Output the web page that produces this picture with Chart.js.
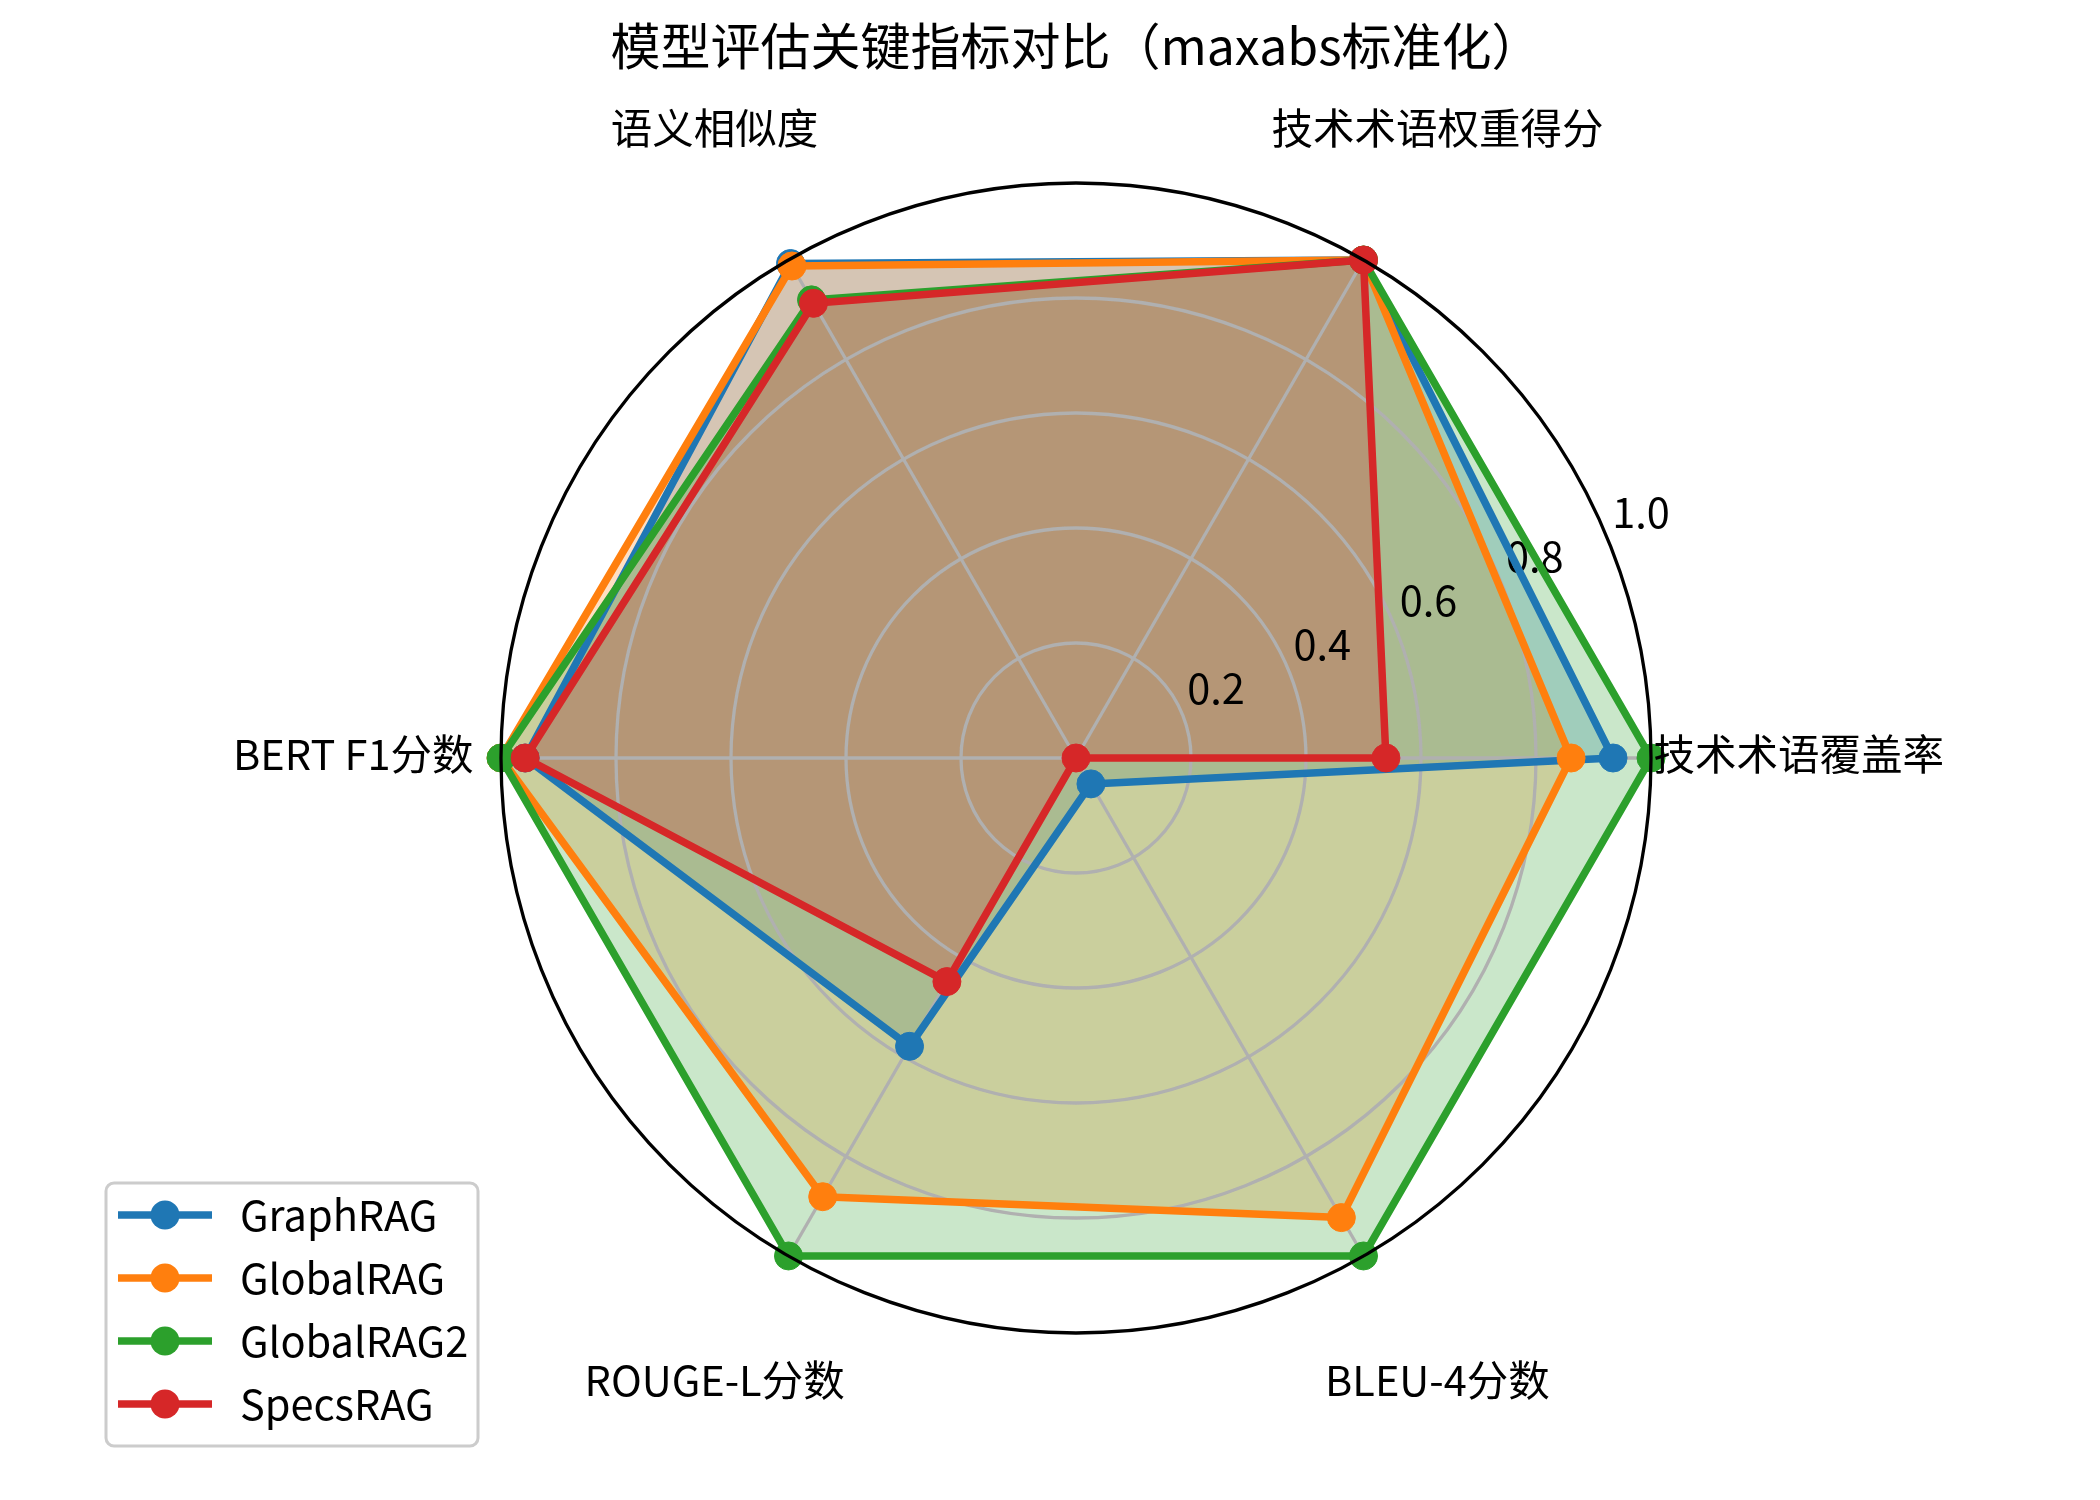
<!DOCTYPE html>
<html>
<head>
<meta charset="utf-8">
<script src="https://cdn.jsdelivr.net/npm/chart.js@4.4.1/dist/chart.umd.min.js"></script>
<style>
  body { margin: 0; background: #fff; }
</style>
</head>
<body>
<canvas id="radar" width="2100" height="1500"></canvas>
<script>
// categories go counter-clockwise starting from the right, same as the original plot
var categories = ['技术术语覆盖率', '技术术语权重得分', '语义相似度', 'BERT F1分数', 'ROUGE-L分数', 'BLEU-4分数'];
var graphRAG   = [0.934, 1.00, 0.993, 0.958, 0.579, 0.052];
var globalRAG  = [0.861, 1.00, 0.988, 1.00,  0.881, 0.923];
var globalRAG2 = [1.00,  1.00, 0.92,  1.00,  1.00,  1.00];
var specsRAG   = [0.539, 1.00, 0.913, 0.958, 0.449, 0.00];
var seriesNames = ['GraphRAG', 'GlobalRAG', 'GlobalRAG2', 'SpecsRAG'];
var tickValues = [0.2, 0.4, 0.6, 0.8, 1.0];
var titleText = '模型评估关键指标对比（maxabs标准化）';

var colors = ['#1f77b4', '#ff7f0e', '#2ca02c', '#d62728'];
var fills  = ['rgba(31,119,180,0.25)', 'rgba(255,127,14,0.25)', 'rgba(44,160,44,0.25)', 'rgba(214,39,40,0.25)'];
var FONT = '"Noto Sans CJK SC", "Noto Sans", sans-serif';

// chart.js walks clockwise, so keep the first item and flip the rest
function cw(a) { return [a[0]].concat(a.slice(1).reverse()); }

var allSeries = [graphRAG, globalRAG, globalRAG2, specsRAG];
var datasets = allSeries.map(function (vals, i) {
  return {
    label: seriesNames[i],
    data: cw(vals),
    borderColor: colors[i],
    backgroundColor: fills[i],
    borderWidth: 7.5,
    borderJoinStyle: 'round',
    pointRadius: 14,
    pointBorderWidth: 1,
    pointBackgroundColor: colors[i],
    pointBorderColor: colors[i],
    fill: true,
    order: allSeries.length - i   // last series ends up on top
  };
});

var decor = {
  id: 'decor',
  beforeDatasetsDraw: function (chart) {
    // r tick labels at 22.5 deg, under the lines
    var s = chart.scales.r, ctx = chart.ctx;
    var a = 22.5 * Math.PI / 180;
    ctx.save();
    ctx.font = '41.5px ' + FONT;
    ctx.fillStyle = '#000';
    ctx.textAlign = 'left';
    ctx.textBaseline = 'alphabetic';
    tickValues.forEach(function (v) {
      var d = s.getDistanceFromCenterForValue(v);
      ctx.fillText(v.toFixed(1), s.xCenter + d * Math.cos(a) + 5, s.yCenter - d * Math.sin(a) - 10);
    });
    ctx.restore();
  },
  afterDatasetsDraw: function (chart) {
    var s = chart.scales.r, ctx = chart.ctx;
    ctx.save();
    // outer ring sits above the data
    ctx.beginPath();
    ctx.arc(s.xCenter, s.yCenter, s.getDistanceFromCenterForValue(1), 0, Math.PI * 2);
    ctx.strokeStyle = '#000';
    ctx.lineWidth = 3.3;
    ctx.stroke();

    // category names
    ctx.font = '41.5px ' + FONT;
    ctx.fillStyle = '#000';
    ctx.textAlign = 'center';
    ctx.textBaseline = 'middle';
    var labels = chart.data.labels;
    for (var i = 0; i < labels.length; i++) {
      var p = s.getPointPosition(i, s.drawingArea * 1.257);
      ctx.fillText(labels[i], p.x, p.y - 4);
    }

    // title
    ctx.font = '50px ' + FONT;
    ctx.fillText(titleText, s.xCenter, 46);

    // legend box, lower left
    var bx = 106, by = 1183, bw = 372, bh = 263, r = 8;
    ctx.beginPath();
    ctx.moveTo(bx + r, by);
    ctx.lineTo(bx + bw - r, by);
    ctx.arcTo(bx + bw, by, bx + bw, by + r, r);
    ctx.lineTo(bx + bw, by + bh - r);
    ctx.arcTo(bx + bw, by + bh, bx + bw - r, by + bh, r);
    ctx.lineTo(bx + r, by + bh);
    ctx.arcTo(bx, by + bh, bx, by + bh - r, r);
    ctx.lineTo(bx, by + r);
    ctx.arcTo(bx, by, bx + r, by, r);
    ctx.closePath();
    ctx.fillStyle = 'rgba(255,255,255,0.8)';
    ctx.fill();
    ctx.strokeStyle = '#cccccc';
    ctx.lineWidth = 3;
    ctx.stroke();

    ctx.textAlign = 'left';
    ctx.font = '41.5px ' + FONT;
    seriesNames.forEach(function (name, k) {
      var y = 1215 + k * 63;
      ctx.strokeStyle = colors[k];
      ctx.lineWidth = 7.5;
      ctx.beginPath();
      ctx.moveTo(118, y);
      ctx.lineTo(212, y);
      ctx.stroke();
      ctx.fillStyle = colors[k];
      ctx.beginPath();
      ctx.arc(165, y, 14.5, 0, Math.PI * 2);
      ctx.fill();
      ctx.fillStyle = '#000';
      ctx.fillText(name, 240, y);
    });
    ctx.restore();
  }
};

var ctx = document.getElementById('radar').getContext('2d');
var chart = new Chart(ctx, {
  type: 'radar',
  data: {
    labels: cw(categories),
    datasets: datasets
  },
  options: {
    responsive: false,
    animation: false,
    devicePixelRatio: 1,
    layout: {
      padding: { top: 183, bottom: 167, left: 501, right: 449 }
    },
    elements: {
      line: { tension: 0 }
    },
    scales: {
      r: {
        min: 0,
        max: 1,
        startAngle: 90,
        ticks: { stepSize: 0.2, display: false },
        pointLabels: { display: false },
        grid: {
          circular: true,
          color: function (c) { return c.tick && c.tick.value >= 0.999 ? 'rgba(0,0,0,0)' : '#b0b0b0'; },
          lineWidth: 3.3
        },
        angleLines: { color: '#b0b0b0', lineWidth: 3.3 }
      }
    },
    plugins: {
      // all fills first, then grid, then the lines (matplotlib zorder)
      filler: { drawTime: 'beforeDraw' },
      legend: { display: false },
      title: { display: false },
      tooltip: { enabled: false }
    }
  },
  plugins: [decor]
});
</script>
</body>
</html>
